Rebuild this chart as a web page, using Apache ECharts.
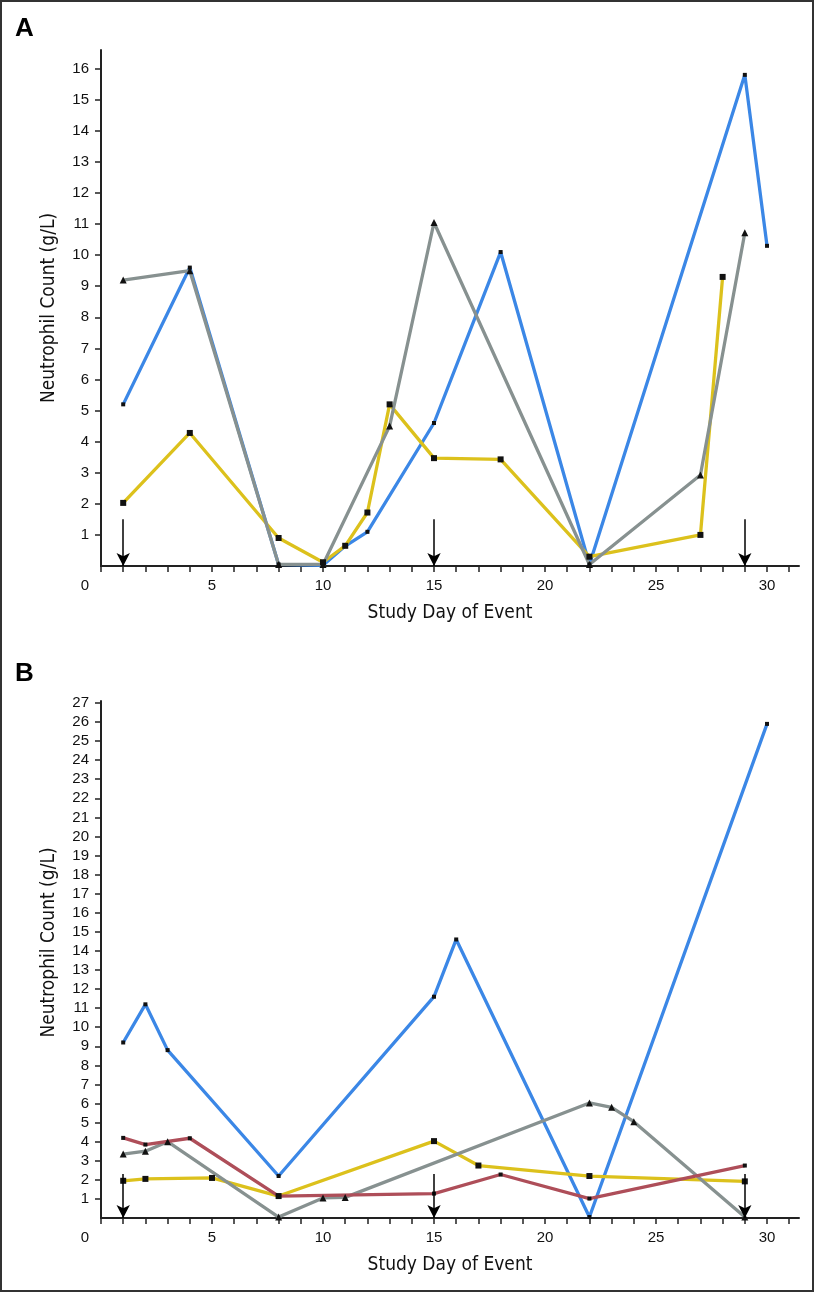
<!DOCTYPE html>
<html><head><meta charset="utf-8">
<script src="https://cdn.jsdelivr.net/npm/echarts@6/dist/echarts.min.js"></script>
<style>html,body{margin:0;padding:0;background:#fff}#c{width:816px;height:1293px}</style>
</head><body><div id="c"></div>
<script>
// ---- tick / label values ----
const xTickValues = [0,1,2,3,4,5,6,7,8,9,10,11,12,13,14,15,16,17,18,19,20,21,22,23,24,25,26,27,28,29,30,31];
const xLabelValues = [0,5,10,15,20,25,30];
const yTickValuesA = [1,2,3,4,5,6,7,8,9,10,11,12,13,14,15,16];
const yTickValuesB = [1,2,3,4,5,6,7,8,9,10,11,12,13,14,15,16,17,18,19,20,21,22,23,24,25,26,27];
const panelLabels = ['A','B'];
const xTitle = 'Study Day of Event';
const yTitle = 'Neutrophil Count (g/L)';

// ---- Panel A ----
const aBlueDays   = [1,4,8,10,11,12,15,18,22,29,30];
const aBlueVals   = [5.2,9.6,0.05,0.02,0.64,1.1,4.6,10.1,0.05,15.8,10.3];
const aYellowDays = [1,4,8,10,11,12,13,15,18,22,27,28];
const aYellowVals = [2.03,4.28,0.9,0.12,0.65,1.72,5.2,3.47,3.43,0.3,1.0,9.3];
const aGrayDays   = [1,4,8,10,13,15,22,27,29];
const aGrayVals   = [9.2,9.5,0.05,0.05,4.5,11.05,0.05,2.93,10.72];
const arrowDaysA  = [1,15,29];
const arrowTopA   = 1.5;

// ---- Panel B ----
const bBlueDays   = [1,2,3,8,15,16,22,30];
const bBlueVals   = [9.2,11.2,8.8,2.2,11.6,14.6,0.05,25.9];
const bYellowDays = [1,2,5,8,15,17,22,29];
const bYellowVals = [1.95,2.05,2.1,1.15,4.03,2.75,2.2,1.92];
const bGrayDays   = [1,2,3,8,10,11,22,23,24,29];
const bGrayVals   = [3.35,3.5,4.0,0.05,1.05,1.08,6.03,5.8,5.05,0.05];
const bRedDays    = [1,2,4,8,15,18,22,29];
const bRedVals    = [4.2,3.85,4.18,1.15,1.28,2.28,1.02,2.75];
const arrowDaysB  = [1,15,29];
const arrowTopB   = 2.3;

const C = {blue:'#3b87e6', yellow:'#dcc11c', gray:'#879190', red:'#ae4e59'};
const NARROW = "'Liberation Sans Narrow','DejaVu Sans Condensed',Arial,sans-serif";
const REG = "'Liberation Sans',Arial,sans-serif";

function pairs(d, v){ return d.map((x,i)=>[x, v[i]]); }

function xAxis(gi){
  return {
    type:'value', gridIndex:gi, min:0, max:31.44,
    axisLine:{show:true, onZero:false, lineStyle:{color:'#222', width:2}},
    axisTick:{show:true, length:6, lineStyle:{color:'#222', width:1.5}, customValues:xTickValues},
    axisLabel:{show:true, margin:12, fontSize:15, fontFamily:REG, color:'#111',
      customValues:xLabelValues,
      formatter:v=> v===0 ? '{z|0}' : String(v),
      rich:{z:{fontSize:15, fontFamily:REG, color:'#111', padding:[0,32,0,0]}}},
    splitLine:{show:false},
    name:xTitle, nameLocation:'middle', nameGap:38,
    nameTextStyle:{fontSize:19, fontFamily:NARROW, color:'#111'}
  };
}
function yAxis(gi, max, ticks, pad){
  return {
    type:'value', gridIndex:gi, min:0, max:max,
    axisLine:{show:true, onZero:false, lineStyle:{color:'#222', width:2}},
    axisTick:{show:true, length:6, lineStyle:{color:'#222', width:1.5}, customValues:ticks},
    axisLabel:{show:true, margin:12, fontSize:15, fontFamily:REG, color:'#111', customValues:ticks},
    splitLine:{show:false},
    name:yTitle, nameLocation:'middle', nameRotate:90, nameGap:42,
    nameTextStyle:{fontSize:19, fontFamily:NARROW, color:'#111', padding:pad}
  };
}
function line(gi, name, days, vals, color, symbol, size, extra){
  return Object.assign({
    type:'line', name:name, xAxisIndex:gi, yAxisIndex:gi,
    data:pairs(days, vals), symbol:symbol, symbolSize:size, showAllSymbol:true,
    lineStyle:{color:color, width:3.3}, itemStyle:{color:'#111'},
    emphasis:{disabled:true}, animation:false, silent:true
  }, extra||{});
}
function arrows(days, top){
  return {
    silent:true, animation:false, symbol:['none','arrow'], symbolSize:[10,13],
    lineStyle:{color:'#000', width:1.5, type:'solid'}, itemStyle:{color:'#000'},
    label:{show:false}, emphasis:{disabled:true},
    data: days.map(d=>[{coord:[d, top]},{coord:[d, 0]}])
  };
}

const chart = echarts.init(document.getElementById('c'), null, {renderer:'canvas'});
chart.setOption({
  backgroundColor:'#fff',
  animation:false,
  grid:[
    {left:101, top:50, width:698, height:516},
    {left:101, top:701, width:698, height:517}
  ],
  xAxis:[xAxis(0), xAxis(1)],
  yAxis:[yAxis(0, 16.6, yTickValuesA, [0,0,0,0]), yAxis(1, 27.1, yTickValuesB, [0,0,0,34])],
  graphic:[
    {type:'rect', shape:{x:1, y:1, width:812, height:1290}, style:{fill:'none', stroke:'#333', lineWidth:2}, silent:true},
    {type:'text', left:15, top:16, style:{text:panelLabels[0], font:"bold 26px 'Liberation Sans',Arial,sans-serif", fill:'#000'}},
    {type:'text', left:15, top:661, style:{text:panelLabels[1], font:"bold 26px 'Liberation Sans',Arial,sans-serif", fill:'#000'}}
  ],
  series:[
    line(0,'A blue', aBlueDays, aBlueVals, C.blue, 'rect', 4, {markLine:arrows(arrowDaysA, arrowTopA)}),
    line(0,'A yellow', aYellowDays, aYellowVals, C.yellow, 'rect', 6),
    line(0,'A gray', aGrayDays, aGrayVals, C.gray, 'triangle', 7),
    line(1,'B blue', bBlueDays, bBlueVals, C.blue, 'rect', 4, {markLine:arrows(arrowDaysB, arrowTopB)}),
    line(1,'B yellow', bYellowDays, bYellowVals, C.yellow, 'rect', 6),
    line(1,'B gray', bGrayDays, bGrayVals, C.gray, 'triangle', 7),
    line(1,'B red', bRedDays, bRedVals, C.red, 'rect', 4)
  ]
});
</script>
</body></html>
